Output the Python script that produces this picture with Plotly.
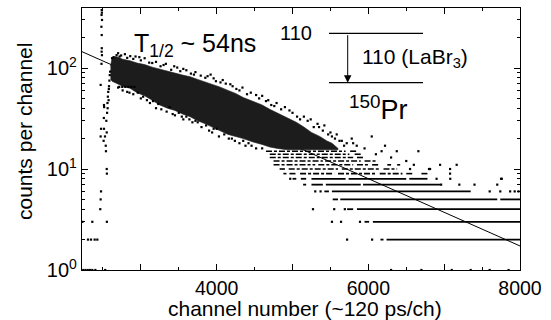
import plotly.graph_objects as go

# ---------------- data ----------------
# exponential fit line (channel, counts)
fit_ch = [2224, 8000]
fit_counts = [145, 1.73]

# dense core of the decay band: upper / lower envelope (counts per channel)
band_ch = [2600, 2620, 2660, 2700, 2760, 2857, 2950, 3050, 3150, 3250, 3350, 3450,
           3550, 3650, 3750, 3850, 3950, 4040, 4150, 4250, 4350, 4480, 4600, 4700,
           4800, 4930, 5050, 5150, 5250, 5360, 5450, 5520, 5600]
band_upper = [104, 124, 130, 128, 122, 118, 112, 108, 102, 97, 93, 89,
              85, 82, 77, 73, 68, 65, 60, 56, 51, 47, 43, 39,
              36, 32, 29, 26, 23, 21, 19, 18, 16]
band_lower = [78, 74, 71, 69, 66, 63, 57, 53, 48, 43, 40, 38,
              35, 33, 30, 28, 26, 24, 22, 21, 20, 18.5, 17.5, 16.5,
              16, 15.5, 15.5, 15.5, 15.5, 15.5, 15.5, 15.5, 15.5]

# low-count tail: integer count levels and channel ranges populated at that level
row_level = [15, 15, 14, 14, 13, 13, 12, 12, 12,
             11, 11, 11, 11, 11, 11,
             10, 10, 10, 10,
             9, 9, 9, 9, 9, 9, 9,
             8, 8, 8, 8, 8,
             7, 7, 7, 7,
             6, 6,
             5, 5, 5,
             4, 4,
             3, 3,
             2, 2]
row_start = [4650, 5760, 4700, 5820, 4700, 5850, 4750, 5430, 5950,
             4750, 5340, 5850, 6050, 6250, 6380,
             4830, 4950, 5650, 6200,
             4880, 4960, 5100, 5600, 6150, 6500, 6700,
             5000, 5110, 5250, 5740, 6540,
             5140, 5250, 5440, 5930,
             5420, 5520,
             5530, 5630, 7740,
             5720, 5850,
             5950, 6060,
             6160, 6240]
row_end = [5700, 5850, 5750, 5900, 5800, 5950, 5400, 5900, 6100,
           5300, 5800, 6000, 6150, 6300, 6420,
           4900, 5600, 6150, 6380,
           4920, 5050, 5550, 6100, 6450, 6600, 6800,
           5050, 5180, 5700, 6500, 6780,
           5180, 5400, 5900, 6950,
           5480, 7350,
           5600, 7700, 8000,
           5800, 8000,
           6010, 8000,
           6200, 8000]

# isolated channels: prompt region and rising edge
prompt_ch = [2484, 2486, 2482, 2488, 2480, 2484, 2485, 2483, 2487, 2481, 2470, 2514, 2516,
             2512, 2475, 2514, 2550, 2470, 2527, 2509, 2537, 2540, 2550, 2552, 2475, 2470,
             2465, 2229, 2360, 2552, 2303, 2343, 2391, 2426, 2240, 2270, 2300, 2330, 2360,
             2400, 2530,
             2545, 2555, 2560, 2565, 2570, 2575, 2580, 2585, 2590, 2595, 2562, 2578,
             2715, 2755, 2795, 2835, 2874, 2914,
             2640, 2680, 2720, 2620]
prompt_counts = [375, 353, 335, 299, 256, 212, 157, 145, 134, 110, 68, 43, 41,
                 32, 25, 25, 23, 21, 21, 19, 17, 15, 10, 9, 6, 5,
                 4, 3, 3, 3, 2, 2, 2, 2, 1, 1, 1, 1, 1,
                 1, 1,
                 30, 36, 45, 52, 58, 48, 66, 75, 85, 92, 40, 62,
                 65, 65, 65, 65, 65, 65,
                 128, 134, 130, 125]

# isolated channels: scatter above / below the dense band and in the tail
out_ch = [2700, 2740, 2790, 2900, 2930, 3000, 3050, 3110, 3200, 3260, 3330, 3400, 3480,
          3520, 3600, 3660, 3720, 3790, 3850, 3920, 3990, 4080, 4120, 4210, 4300, 4340,
          4400, 4520, 4560, 4650, 4720, 4790, 4850, 4900, 5000, 5060, 5100, 5200, 5280,
          5330, 5400, 5470, 5500, 5560,
          2820, 2860, 2980, 3150, 3300, 3440, 3560, 3700, 3880, 3960, 4050, 4180, 4260,
          4450, 4600, 4680, 4760, 4960, 5150, 5240, 5350, 5420, 5520, 5620, 5680,
          2760, 2820, 2900, 2960, 3000, 3080, 3120, 3200, 3270, 3340, 3380, 3450, 3500,
          3560, 3600, 3680, 3720, 3800, 3860, 3900, 3960, 4030, 4100, 4160, 4240, 4300,
          4380, 4460, 4520,
          2700, 2850, 3030, 3160, 3230, 3420, 3540, 3640, 3750, 3940, 4000, 4200, 4350,
          4420, 4600,
          5583, 5650, 5715, 5781, 5800, 5847, 6045, 6175, 6220, 6375, 6660, 6946, 7078,
          7078, 7165, 6814, 7760, 5950, 6100, 6300, 6500, 6600,
          5720, 6050, 5520, 5640, 5890, 5270, 5550, 5690, 5300, 5370, 7600, 7740, 7870,
          7930, 7980, 6960, 7200, 7400, 7700, 4970, 6900, 7080, 7750, 6550, 6800,
          6300, 6700, 7100, 7350, 7600, 7850]
out_counts = [140, 133, 137, 123, 130, 119, 125, 113, 115, 104, 110, 96, 101,
              93, 95, 88, 91, 84, 80, 86, 74, 76, 70, 66, 60, 64,
              55, 54, 50, 47, 43, 45, 39, 41, 36, 33, 31, 30, 26,
              28, 24, 22, 23, 20,
              126, 131, 128, 112, 107, 104, 98, 86, 83, 79, 72, 69, 62,
              57, 53, 48, 42, 38, 33, 31, 26, 27, 21, 19, 17,
              60, 58, 55, 57, 50, 48, 45, 40, 39, 37, 41, 34, 36,
              31, 33, 29, 30, 26, 27, 24, 25, 21, 22, 20, 19, 18,
              17, 17, 16,
              64, 57, 52, 47, 44, 35, 33, 31, 29, 23, 25, 20, 19,
              18, 16,
              22, 19, 18, 20, 18, 17, 21, 15, 17, 15, 15, 11, 10,
              9, 11, 10, 8, 16, 14, 13, 12, 11,
              2, 2, 3, 3, 3, 4, 4, 4, 6, 6, 6, 6, 6,
              6, 6, 7, 7, 7, 7, 8, 8, 8, 8, 10, 10,
              1, 1, 1, 1, 1, 1]

# axis ticks
x_label_ticks = [4000, 6000, 8000]
x_plain_ticks = [3000, 5000, 7000]
x_minor = [2500, 3500, 4500, 5500, 6500, 7500]
y_major = [1, 10, 100]
y_major_text = ["10<sup>0</sup>", "10<sup>1</sup>", "10<sup>2</sup>"]
y_minor = [2, 3, 4, 5, 6, 7, 8, 9, 20, 30, 40, 50, 60, 70, 80, 90, 200, 300]

# ---------------- figure ----------------
FONT = "Liberation Sans, Arial, sans-serif"
fig = go.Figure()

# fit line (below the data)
fig.add_trace(go.Scatter(x=fit_ch, y=fit_counts, mode="lines",
                         line=dict(color="black", width=1), showlegend=False))

# dense band
fig.add_trace(go.Scatter(
    x=band_ch + band_ch[::-1], y=band_upper + band_lower[::-1],
    mode="lines", fill="toself", fillcolor="rgb(28,28,28)",
    line=dict(width=0.6, color="rgb(28,28,28)"), hoverinfo="skip", showlegend=False))

# count-level rows in the tail: solid for low levels, broken for higher ones
lo_x, lo_y, hi_x, hi_y = [], [], [], []
for lev, s, e in zip(row_level, row_start, row_end):
    if lev <= 8:
        lo_x += [s, e, None]
        lo_y += [lev, lev, None]
    else:
        hi_x += [s, e, None]
        hi_y += [lev, lev, None]
fig.add_trace(go.Scatter(x=lo_x, y=lo_y, mode="lines",
                         line=dict(color="black", width=1.8), showlegend=False))
fig.add_trace(go.Scatter(x=hi_x, y=hi_y, mode="lines",
                         line=dict(color="black", width=1.6, dash="6px,2px,3px,2px"),
                         showlegend=False))

# isolated points
fig.add_trace(go.Scatter(x=prompt_ch + out_ch, y=prompt_counts + out_counts,
                         mode="markers",
                         marker=dict(color="black", size=2.2, symbol="square"),
                         showlegend=False))

# helper trace so the unlabeled tick axis is drawn
fig.add_trace(go.Scatter(x=[None], y=[None], xaxis="x2", showlegend=False))

L, R, T, B = 82, 520, 8, 270
W, H = 551, 320
pw, ph = R - L, B - T

def px(x):
    return (x - L) / pw

def py(y):
    return (B - y) / ph

axis_common = dict(showgrid=False, zeroline=False, showline=True, linecolor="black",
                   linewidth=1.3, mirror="ticks", ticks="inside", ticklen=6,
                   tickcolor="black", tickwidth=1, automargin=False)

fig.update_layout(
    width=W, height=H,
    margin=dict(l=L, r=W - R, t=T, b=H - B),
    paper_bgcolor="white", plot_bgcolor="white",
    font=dict(family=FONT, color="black"),
    xaxis=dict(range=[2224, 8000], tickvals=x_label_ticks,
               tickfont=dict(size=19.5, family=FONT),
               minor=dict(tickvals=x_minor, ticks="inside", ticklen=3,
                          tickcolor="black", showgrid=False),
               **axis_common),
    xaxis2=dict(range=[2224, 8000], overlaying="x", anchor="y", side="bottom",
                tickvals=x_plain_ticks, showticklabels=False, **axis_common),
    yaxis=dict(type="log", range=[0, 2.594],
               tickvals=y_major, ticktext=y_major_text,
               tickfont=dict(size=20, family=FONT),
               minor=dict(tickvals=y_minor, ticks="inside", ticklen=3,
                          tickcolor="black", showgrid=False),
               **axis_common),
)

# axis titles
fig.add_annotation(xref="paper", yref="paper", x=px(305), y=py(308),
                   xanchor="center", yanchor="middle", showarrow=False,
                   text="channel number (~120 ps/ch)", font=dict(size=21, family=FONT))
fig.add_annotation(xref="paper", yref="paper", x=px(24), y=py(132),
                   xanchor="center", yanchor="middle", showarrow=False, textangle=-90,
                   text="counts per channel", font=dict(size=21, family=FONT))

# level scheme lines
for yy in (33.3, 82.7):
    fig.add_shape(type="line", xref="paper", yref="paper",
                  x0=px(329), x1=px(423), y0=py(yy), y1=py(yy),
                  line=dict(color="black", width=1.2))

fig.add_annotation(xref="paper", yref="paper", x=px(347.7), y=py(82.7),
                   ax=0, ay=-49, text="", showarrow=True, arrowhead=2,
                   arrowsize=1.5, arrowwidth=1, arrowcolor="black")

fig.add_annotation(xref="paper", yref="paper", x=px(132), y=py(45),
                   xanchor="left", yanchor="middle", showarrow=False,
                   text="T<sub>1/2</sub> ~ 54ns", font=dict(size=25, family=FONT))
fig.add_annotation(xref="paper", yref="paper", x=px(314), y=py(32.5),
                   xanchor="right", yanchor="middle", showarrow=False,
                   text="110", font=dict(size=20, family=FONT))
fig.add_annotation(xref="paper", yref="paper", x=px(360), y=py(58),
                   xanchor="left", yanchor="middle", showarrow=False,
                   text="110 (LaBr<sub>3</sub>)", font=dict(size=21, family=FONT))
fig.add_annotation(xref="paper", yref="paper", x=px(347), y=py(108),
                   xanchor="left", yanchor="middle", showarrow=False,
                   text="<sup>150</sup>Pr", font=dict(size=27, family=FONT))

fig.write_html("out.html", config={"displayModeBar": False},
               post_script="document.body.style.margin='0';document.body.style.overflow='hidden';")
